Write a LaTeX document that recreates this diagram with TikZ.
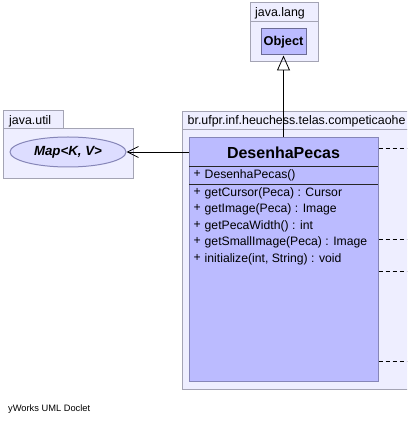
\documentclass[tikz,border=0pt]{standalone}
\usepackage{fontspec}
\setmainfont{Liberation Sans}
\usetikzlibrary{arrows.meta,shapes.geometric}
\definecolor{pkgfill}{HTML}{EEEEFF}
\definecolor{pkgdraw}{HTML}{A4A4B4}
\definecolor{clsfill}{HTML}{BBBBFF}
\definecolor{clsdraw}{HTML}{8686B8}
\definecolor{ellfill}{HTML}{DDDDFF}
\begin{document}
\begin{tikzpicture}[x=1pt,y=-1pt,
  pkg/.style={draw=pkgdraw,fill=pkgfill,line width=1pt},
  cls/.style={draw=clsdraw,fill=clsfill,line width=1pt,inner sep=0pt},
  lbl/.style={inner sep=0pt,anchor=west,font=\fontsize{12.4}{12}\selectfont},
  mem/.style={inner sep=0pt,anchor=west,font=\fontsize{12.2}{12}\selectfont},
  sep/.style={draw=black!85,line width=0.8pt},
  dep/.style={draw=black,dash pattern=on 4pt off 3pt,line width=0.8pt}]
\useasboundingbox (0,0) rectangle (407,427);
\clip (0,0) rectangle (407,427);
% java.lang package
\draw[pkg] (250,3) rectangle (318,22);
\draw[pkg] (250,22) rectangle (318,62);
\node[lbl] (langlbl) at (255,13) {java.lang};
\node[cls,draw=clsdraw!80!black,minimum width=45pt,minimum height=26pt,font=\bfseries\fontsize{12.8}{13}\selectfont] (obj) at (283.5,42) {Object};
% java.util package
\draw[pkg] (3,111) rectangle (63,129);
\draw[pkg] (3,129) rectangle (133,179);
\node[lbl] (utillbl) at (9,121) {java.util};
\node[ellipse,draw=clsdraw,fill=ellfill,line width=1pt,minimum width=116pt,minimum height=30pt,inner sep=0pt,font=\bfseries\itshape\fontsize{13.3}{13}\selectfont] (map) at (68,152) {Map<K, V>};
% main package
\draw[pkg] (182,112) rectangle (430,130);
\draw[pkg] (182,130) rectangle (430,389);
\node[lbl] (mainlbl) at (187.5,121) {br.ufpr.inf.heuchess.telas.competicaohe};
% class
\node[cls,minimum width=189pt,minimum height=243pt] (cls) at (283.5,259.5) {};
\node[inner sep=0pt,font=\bfseries\fontsize{16}{16}\selectfont] (title) at (283.5,152.5) {DesenhaPecas};
\draw[sep] (189,166) -- (378,166);
\draw[sep] (189,184) -- (378,184);
\foreach \y/\n/\t in {175.5/c0/DesenhaPecas(),
                      193/m1/getCursor(Peca) : Cursor,
                      209.5/m2/getImage(Peca) : Image,
                      226/m3/getPecaWidth() : int,
                      242.5/m4/getSmallImage(Peca) : Image,
                      259/m5/{initialize(int, String) : void}}{
  \node[mem] (p\n) at (193.5,\y-1.5) {+};
  \node[mem] (\n) at (204.5,\y) {\t};
}
% connectors
\draw[line width=0.8pt,-{Triangle[open,length=15pt,width=13pt]}] (cls.north) -- (obj.south);
\draw[line width=0.8pt,-{Straight Barb[length=11pt,width=11pt]}] (cls.west |- map.east) -- (map.east);
\coordinate (d1) at (410,148);
\coordinate (d2) at (410,239);
\coordinate (d3) at (410,271);
\coordinate (d4) at (410,361);
\draw[dep] (cls.east |- d1) -- (d1);
\draw[dep] (cls.east |- d2) -- (d2);
\draw[dep] (cls.east |- d3) -- (d3);
\draw[dep] (cls.east |- d4) -- (d4);
\node[inner sep=0pt,anchor=west,font=\fontsize{9.3}{10}\selectfont] (yw) at (8,409) {yWorks UML Doclet};
\end{tikzpicture}
\end{document}
